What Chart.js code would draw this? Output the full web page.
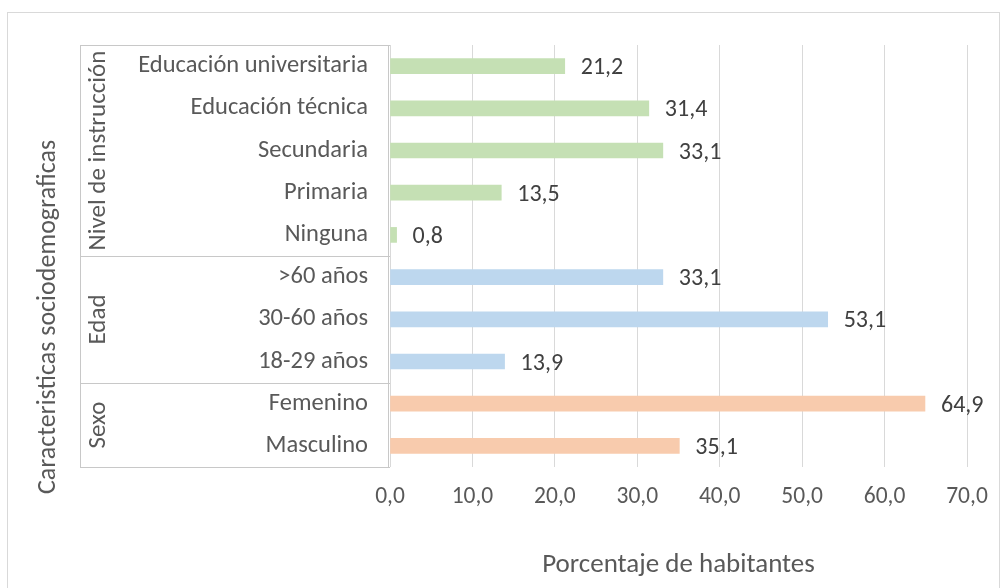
<!DOCTYPE html>
<html>
<head>
<meta charset="utf-8">
<script src="https://cdn.jsdelivr.net/npm/chart.js@4.4.1/dist/chart.umd.min.js"></script>
<style>
body { margin: 0; background: #fff; }
#wrap { position: relative; width: 1006px; height: 588px; }
</style>
</head>
<body>
<div id="wrap"><canvas id="grafico" width="1006" height="588"></canvas></div>
<script>
// Datos del gráfico
const categorias = ['Educación universitaria', 'Educación técnica', 'Secundaria', 'Primaria', 'Ninguna',
    '>60 años', '30-60 años', '18-29 años', 'Femenino', 'Masculino'];
const porcentajes = [21.2, 31.4, 33.1, 13.5, 0.8, 33.1, 53.1, 13.9, 64.9, 35.1];
const grupos = ['Nivel de instrucción', 'Edad', 'Sexo'];
const grupoDeCategoria = [0, 0, 0, 0, 0, 1, 1, 1, 2, 2];
const coloresGrupo = ['#c5e0b4', '#bdd7ee', '#f8cbad'];
const ticksX = [0, 10, 20, 30, 40, 50, 60, 70];

const FUENTE = 'Carlito, Calibri, Lato, sans-serif';
const GRIS = '#595959';

function formato(v) {
    return v.toFixed(1).replace('.', ',');
}

// Etiquetas de valor al final de cada barra
const etiquetasValor = {
    id: 'etiquetasValor',
    afterDatasetsDraw(chart) {
        const ctx = chart.ctx;
        const meta = chart.getDatasetMeta(0);
        ctx.save();
        ctx.font = '24px ' + FUENTE;
        ctx.fillStyle = '#404040';
        ctx.textBaseline = 'middle';
        ctx.textAlign = 'left';
        meta.data.forEach((bar, i) => {
            ctx.fillText(formato(porcentajes[i]), bar.x + 16, bar.y + 2);
        });
        ctx.restore();
    }
};

// Tabla de grupos a la izquierda, título del eje y y borde exterior
const tablaGrupos = {
    id: 'tablaGrupos',
    afterDraw(chart) {
        const ctx = chart.ctx;
        const area = chart.chartArea;
        const y = chart.scales.y;
        const x0 = 80;
        ctx.save();
        ctx.strokeStyle = '#c8c8c8';
        ctx.lineWidth = 1;

        // límites de cada grupo
        const limites = [area.top];
        for (let i = 1; i < grupoDeCategoria.length; i++) {
            if (grupoDeCategoria[i] !== grupoDeCategoria[i - 1]) {
                limites.push(Math.round((y.getPixelForValue(i - 1) + y.getPixelForValue(i)) / 2));
            }
        }
        limites.push(area.bottom);

        ctx.beginPath();
        limites.forEach(py => {
            ctx.moveTo(x0, Math.round(py) + 0.5);
            ctx.lineTo(area.left, Math.round(py) + 0.5);
        });
        ctx.moveTo(x0 + 0.5, area.top);
        ctx.lineTo(x0 + 0.5, area.bottom);
        ctx.moveTo(area.left - 1.5, area.top);
        ctx.lineTo(area.left - 1.5, area.bottom);
        ctx.stroke();

        // nombres de los grupos
        ctx.fillStyle = GRIS;
        ctx.font = '25px ' + FUENTE;
        ctx.textAlign = 'center';
        ctx.textBaseline = 'middle';
        grupos.forEach((g, k) => {
            const cy = (limites[k] + limites[k + 1]) / 2;
            ctx.save();
            ctx.translate(99, cy);
            ctx.rotate(-Math.PI / 2);
            ctx.fillText(g, 0, 0);
            ctx.restore();
        });

        // título del eje y
        ctx.font = '26px ' + FUENTE;
        ctx.save();
        ctx.translate(48, 317);
        ctx.rotate(-Math.PI / 2);
        ctx.fillText('Caracteristicas sociodemograficas', 0, 0);
        ctx.restore();

        // borde exterior
        ctx.strokeStyle = '#d9d9d9';
        ctx.strokeRect(7.5, 12.5, 992, 620);
        ctx.restore();
    }
};

const ctx = document.getElementById('grafico').getContext('2d');
const grafico = new Chart(ctx, {
    type: 'bar',
    data: {
        labels: categorias,
        datasets: [{
            data: porcentajes,
            backgroundColor: grupoDeCategoria.map(g => coloresGrupo[g]),
            barThickness: 15
        }]
    },
    options: {
        indexAxis: 'y',
        responsive: false,
        animation: false,
        layout: { padding: { top: 45, right: 39, left: 0, bottom: 0 } },
        plugins: {
            legend: { display: false },
            tooltip: { enabled: false }
        },
        scales: {
            y: {
                afterFit(s) { s.width = 390; },
                grid: { display: false, drawTicks: false },
                border: { display: false },
                ticks: { color: GRIS, font: { family: FUENTE, size: 24.5 }, padding: 22 }
            },
            x: {
                min: ticksX[0],
                max: ticksX[ticksX.length - 1],
                afterFit(s) { s.height = 121; },
                afterBuildTicks(s) { s.ticks = ticksX.map(v => ({ value: v })); },
                grid: { color: '#d9d9d9', drawTicks: false },
                border: { display: false },
                ticks: {
                    color: GRIS,
                    font: { family: FUENTE, size: 23.5 },
                    padding: 16,
                    callback: v => formato(v)
                },
                title: {
                    display: true,
                    text: 'Porcentaje de habitantes',
                    color: GRIS,
                    font: { family: FUENTE, size: 27 },
                    padding: { top: 0, bottom: 7 }
                }
            }
        }
    },
    plugins: [etiquetasValor, tablaGrupos]
});
</script>
</body>
</html>
